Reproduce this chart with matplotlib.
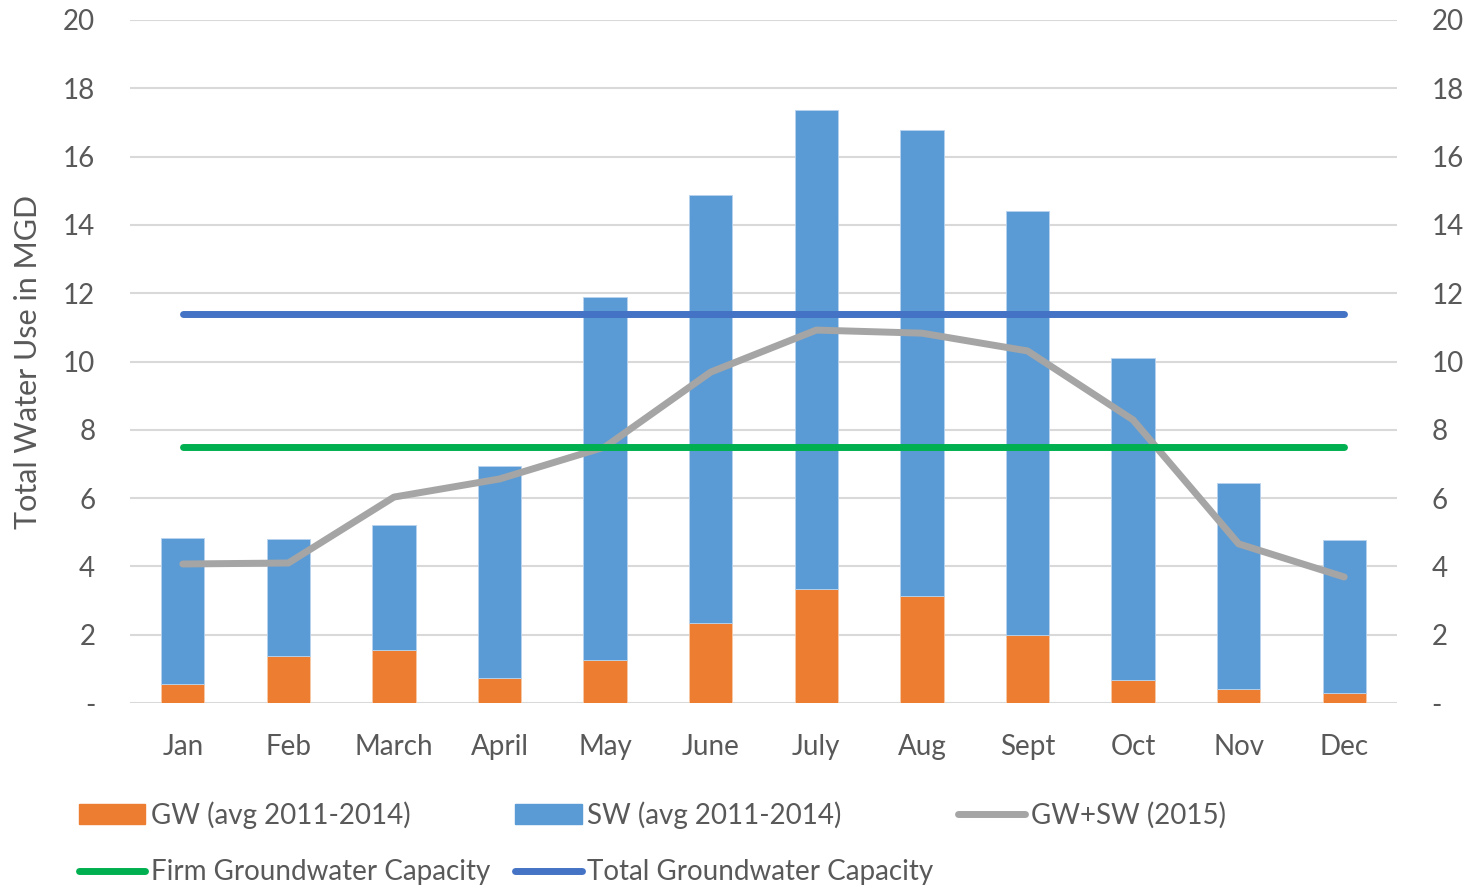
import matplotlib.pyplot as plt
from matplotlib.patches import Patch
from matplotlib.lines import Line2D
import numpy as np

plt.rcParams['font.family'] = ['Lato', 'DejaVu Sans']

months = ["Jan", "Feb", "March", "April", "May", "June",
          "July", "Aug", "Sept", "Oct", "Nov", "Dec"]
gw_avg = [0.56, 1.38, 1.55, 0.73, 1.26, 2.34, 3.34, 3.13, 1.99, 0.67, 0.41, 0.29]
total_avg = [4.83, 4.80, 5.21, 6.94, 11.89, 14.88, 17.36, 16.78, 14.41, 10.10, 6.44, 4.77]
sw_avg = [t - g for t, g in zip(total_avg, gw_avg)]
gw_sw_2015 = [4.07, 4.10, 6.03, 6.56, 7.50, 9.69, 10.92, 10.83, 10.31, 8.29, 4.66, 3.69]
firm_capacity = 7.5
total_capacity = 11.4

yticks = [0, 2, 4, 6, 8, 10, 12, 14, 16, 18, 20]
ytick_labels = ["-"] + [str(v) for v in yticks[1:]]

text_color = "#595959"
orange = "#ED7D31"
blue = "#5B9BD5"
gray = "#A5A5A5"
green = "#00B050"
dark_blue = "#4472C4"

fig = plt.figure(figsize=(14.7, 8.86), dpi=100)
ax = fig.add_axes([130 / 1470, 1 - 703 / 886, 1267 / 1470, 683 / 886])

x = np.arange(len(months))
w = 0.41
ax.bar(x, gw_avg, w, color=orange, edgecolor="#f7c9a8", linewidth=0.6, zorder=2)
ax.bar(x, sw_avg, w, bottom=gw_avg, color=blue, edgecolor="#b8d3ee", linewidth=0.6, zorder=2)

ax.plot(x, gw_sw_2015, color=gray, lw=5, solid_capstyle="round",
        solid_joinstyle="round", zorder=3)
ax.plot(x, [firm_capacity] * len(x), color=green, lw=5, solid_capstyle="round", zorder=4)
ax.plot(x, [total_capacity] * len(x), color=dark_blue, lw=5, solid_capstyle="round", zorder=4)

ax.set_xlim(-0.5, len(months) - 0.5)
ax.set_ylim(0, 20)
ax.set_yticks(yticks)
ax.set_yticklabels(ytick_labels)
ax.set_xticks(x)
ax.set_xticklabels(months)
ax.grid(axis="y", color="#d9d9d9", lw=1.5, zorder=0)
ax.set_axisbelow(True)
for s in ax.spines.values():
    s.set_visible(False)
ax.tick_params(length=0, labelsize=20, colors=text_color)
ax.tick_params(axis="y", pad=25)
ax.tick_params(axis="x", pad=22)
ax.set_ylabel("Total Water Use in MGD", fontsize=22, color=text_color)
ax.yaxis.set_label_coords(-88 / 1267, 0.5)

ax2 = ax.twinx()
ax2.set_ylim(0, 20)
ax2.set_yticks(yticks)
ax2.set_yticklabels(ytick_labels)
for s in ax2.spines.values():
    s.set_visible(False)
ax2.tick_params(length=0, labelsize=20, colors=text_color, pad=25)

handles = [
    Patch(color=orange, label="GW (avg 2011-2014)"),
    Line2D([], [], color=green, lw=5, solid_capstyle="round", label="Firm Groundwater Capacity"),
    Patch(color=blue, label="SW (avg 2011-2014)"),
    Line2D([], [], color=dark_blue, lw=5, solid_capstyle="round", label="Total Groundwater Capacity"),
    Line2D([], [], color=gray, lw=5, solid_capstyle="round", label="GW+SW (2015)"),
]
fig.legend(handles=handles, ncol=3, loc="lower left", bbox_to_anchor=(62 / 1470, -0.018),
           frameon=False, fontsize=20, labelcolor=text_color, handlelength=2.4,
           handletextpad=0.2, columnspacing=0.9, labelspacing=1.1, borderaxespad=0.2)

fig.savefig("out.png", dpi=100)
